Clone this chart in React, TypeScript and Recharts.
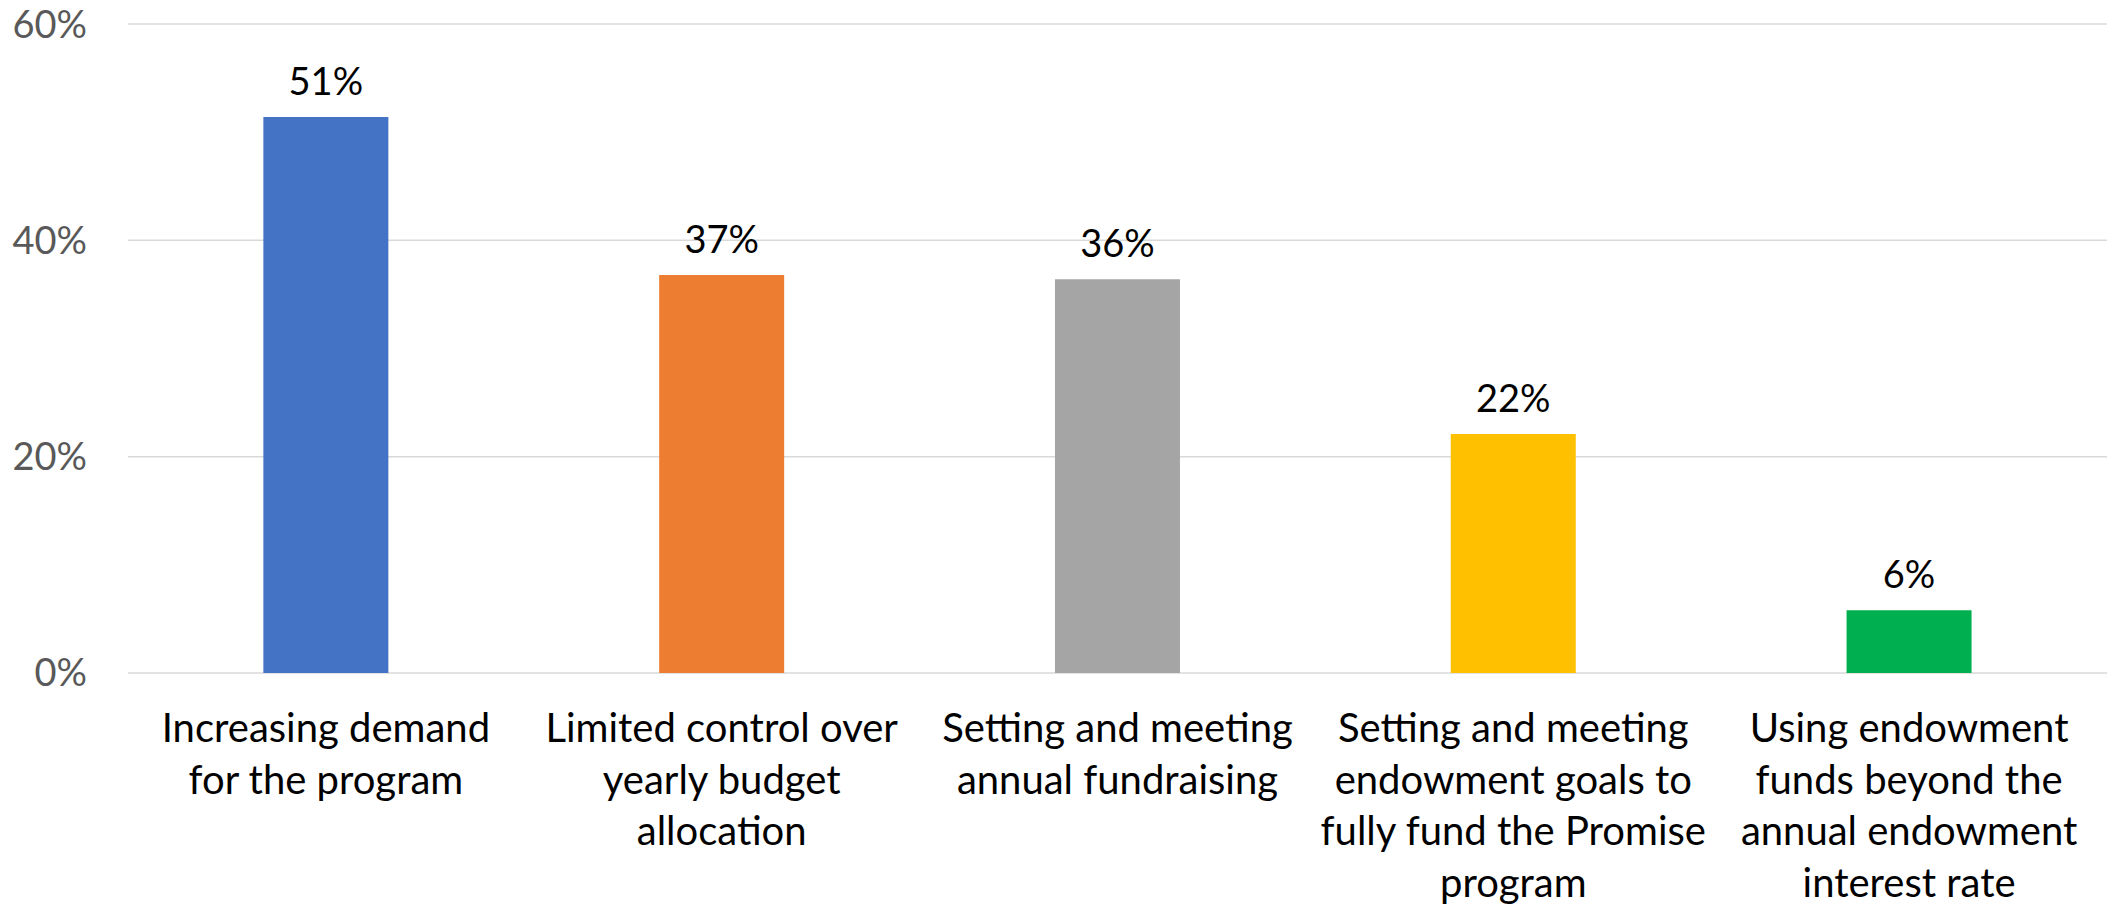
import React from "react";
import { BarChart, Bar, XAxis, YAxis, CartesianGrid, Cell, LabelList } from "recharts";

const categories = [
  "Increasing demand for the program",
  "Limited control over yearly budget allocation",
  "Setting and meeting annual fundraising",
  "Setting and meeting endowment goals to fully fund the Promise program",
  "Using endowment funds beyond the annual endowment interest rate",
];
const categoryLines = [
  ["Increasing demand", "for the program"],
  ["Limited control over", "yearly budget", "allocation"],
  ["Setting and meeting", "annual fundraising"],
  ["Setting and meeting", "endowment goals to", "fully fund the Promise", "program"],
  ["Using endowment", "funds beyond the", "annual endowment", "interest rate"],
];
const values = [0.514, 0.368, 0.364, 0.221, 0.058];
const colors = ["#4472C4", "#ED7D31", "#A5A5A5", "#FFC000", "#00B050"];
const yTicks = [0, 0.2, 0.4, 0.6];

const data = categories.map((c, i) => ({ name: c, value: values[i], idx: i }));

const FONT = "Lato, 'Open Sans', sans-serif";

const CatTick = (props: any) => {
  const { x, y, payload } = props;
  const lines = categoryLines[payload.index] || [payload.value];
  return (
    <text x={x} y={y} textAnchor="middle" fill="#000000" fontFamily={FONT} fontSize={40}>
      {lines.map((l: string, i: number) => (
        <tspan key={i} x={x} y={y + 69 + i * 51.7}>
          {l}
        </tspan>
      ))}
    </text>
  );
};

export default function App() {
  return (
    <div style={{ position: "absolute", left: 0, top: 0, background: "#fff" }}>
      <BarChart
        width={2107}
        height={904}
        data={data}
        margin={{ top: 24, right: 0, left: 0, bottom: 0 }}
        barCategoryGap="34.2%"
      >
        <CartesianGrid vertical={false} stroke="#D9D9D9" strokeWidth={1.5} />
        <XAxis
          dataKey="name"
          height={231}
          axisLine={false}
          tickLine={false}
          tickSize={0}
          tickMargin={0}
          interval={0}
          tick={<CatTick />}
        />
        <YAxis
          width={128}
          domain={[0, 0.6]}
          ticks={yTicks}
          axisLine={false}
          tickLine={false}
          tickSize={0}
          tickMargin={41}
          tickFormatter={(v: number) => `${Math.round(v * 100)}%`}
          tick={{ fill: "#595959", fontSize: 38, fontFamily: FONT }}
        />
        <Bar dataKey="value" isAnimationActive={false}>
          {data.map((d, i) => (
            <Cell key={i} fill={colors[i]} />
          ))}
          <LabelList
            dataKey="value"
            position="top"
            offset={22}
            formatter={(v: number) => `${Math.round(v * 100)}%`}
            style={{ fill: "#000000", fontSize: 38, fontFamily: FONT }}
          />
        </Bar>
      </BarChart>
    </div>
  );
}
